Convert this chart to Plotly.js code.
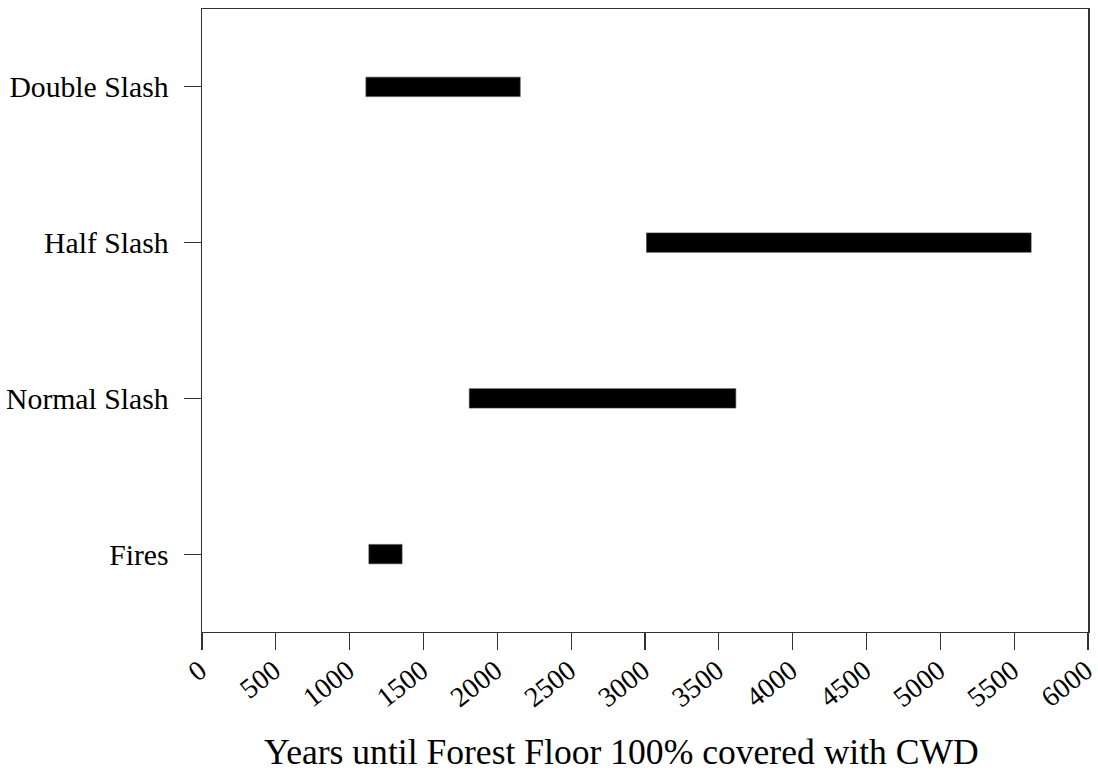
<!DOCTYPE html>
<html>
<head>
<meta charset="utf-8">
<script src="https://cdn.plot.ly/plotly-3.0.1.min.js"></script>
<style>html,body{margin:0;padding:0;background:#fff;}#chart{width:1098px;height:773px;}</style>
</head>
<body>
<div id="chart"></div>
<script>
// Treatments (bottom to top)
const categories = ['Fires', 'Normal Slash', 'Half Slash', 'Double Slash'];
// Range of years until forest floor 100% covered with CWD
const startYears = [1130, 1810, 3010, 1110];
const endYears = [1355, 3615, 5615, 2155];
const xTicks = [0, 500, 1000, 1500, 2000, 2500, 3000, 3500, 4000, 4500, 5000, 5500, 6000];
const xTitle = 'Years until Forest Floor 100% covered with CWD';

const spans = endYears.map((e, i) => e - startYears[i]);

const trace = {
  type: 'bar',
  orientation: 'h',
  y: categories,
  x: spans,
  base: startYears,
  width: 0.125,
  marker: {color: '#000000', line: {color: '#444444', width: 0.6}},
  hoverinfo: 'skip',
  showlegend: false
};

const font = 'Liberation Serif, Times New Roman, serif';

const layout = {
  width: 1098,
  height: 773,
  margin: {l: 202, r: 10, t: 9, b: 141},
  paper_bgcolor: '#ffffff',
  plot_bgcolor: '#ffffff',
  font: {family: font, color: '#000000', size: 28},
  xaxis: {
    range: [0, 6000],
    tickmode: 'array',
    tickvals: xTicks,
    ticktext: xTicks.map(String),
    tickangle: -38,
    ticks: 'outside',
    ticklen: 17,
    tickwidth: 1.2,
    tickcolor: '#333333',
    ticklabeloverflow: 'allow',
    ticklabelstandoff: -7,
    ticklabelshift: -2,
    showline: true,
    linecolor: '#333333',
    linewidth: 1.2,
    mirror: true,
    showgrid: false,
    zeroline: false,
    tickfont: {family: font, size: 28, color: '#000000'},
    automargin: false
  },
  yaxis: {
    type: 'category',
    categoryorder: 'array',
    categoryarray: categories,
    range: [-0.5, 3.5],
    ticks: 'outside',
    ticklen: 17,
    tickwidth: 1.2,
    tickcolor: '#333333',
    ticklabelstandoff: 9,
    showline: true,
    linecolor: '#333333',
    linewidth: 1.5,
    mirror: true,
    showgrid: false,
    zeroline: false,
    tickfont: {family: font, size: 29.7, color: '#000000'},
    automargin: false
  },
  annotations: [{
    text: xTitle,
    xref: 'paper', yref: 'paper',
    x: 0.473, y: -0.192,
    xanchor: 'center', yanchor: 'middle',
    showarrow: false,
    font: {family: font, size: 35.6, color: '#000000'}
  }],
  bargap: 0
};

Plotly.newPlot('chart', [trace], layout, {displayModeBar: false, staticPlot: true});
</script>
</body>
</html>
